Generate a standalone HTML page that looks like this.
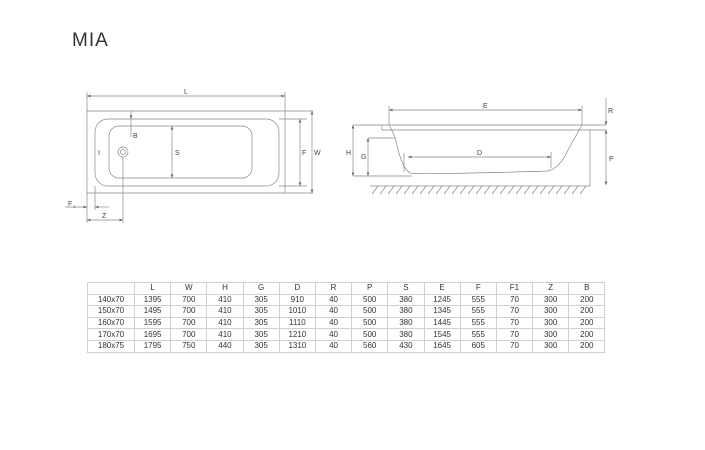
<!DOCTYPE html>
<html><head><meta charset="utf-8"><style>
body{margin:0;background:#fff;width:705px;height:450px;overflow:hidden;position:relative;font-family:"Liberation Sans",sans-serif}
.t{position:absolute;left:72px;top:30px;font-size:19px;color:#333;letter-spacing:1px}
table{position:absolute;left:87px;top:282px;border-collapse:collapse;font-size:8px;color:#333}
td{border:1px solid #d0d0d0;height:10.6px;padding:0;text-align:center;width:35.2px;line-height:10px}
td:first-child{width:46px}
</style></head><body>
<div class="t">MIA</div>
<svg width="705" height="450" style="position:absolute;left:0;top:0" font-family="Liberation Sans" font-size="7" fill="none" stroke="#888" stroke-width="0.7">
<defs><marker id="a" markerWidth="6" markerHeight="6" refX="5" refY="3" orient="auto-start-reverse"><path d="M0,1 L5,3 L0,5" fill="#666" stroke="none"/></marker></defs>
<!-- plan view -->
<line x1="87" y1="96" x2="285" y2="96" marker-start="url(#a)" marker-end="url(#a)"/>
<line x1="87" y1="92" x2="87" y2="223"/><line x1="285" y1="92" x2="285" y2="193"/>
<line x1="87" y1="111" x2="313" y2="111"/><line x1="87" y1="193" x2="313" y2="193"/>
<rect x="95" y="119" width="184" height="67" rx="13"/>
<line x1="279" y1="119" x2="307" y2="119"/><line x1="279" y1="186" x2="307" y2="186"/>
<rect x="109" y="126" width="143" height="52" rx="10"/>
<circle cx="123" cy="152" r="5"/><circle cx="123" cy="152" r="2.5"/>
<line x1="131" y1="111" x2="131" y2="119" marker-end="url(#a)"/><line x1="131" y1="119" x2="131" y2="137"/>
<line x1="172" y1="126" x2="172" y2="178" marker-start="url(#a)" marker-end="url(#a)"/>
<line x1="300" y1="119" x2="300" y2="186" marker-start="url(#a)" marker-end="url(#a)"/>
<line x1="312" y1="111" x2="312" y2="193" marker-start="url(#a)" marker-end="url(#a)"/>
<line x1="95" y1="186" x2="95" y2="210"/>
<line x1="65" y1="207" x2="87" y2="207" marker-end="url(#a)"/><line x1="109" y1="207" x2="95" y2="207" marker-end="url(#a)"/>
<line x1="123" y1="157" x2="123" y2="223"/>
<line x1="87" y1="220" x2="123" y2="220" marker-start="url(#a)" marker-end="url(#a)"/>
<!-- side view -->
<line x1="389" y1="110" x2="582" y2="110" marker-start="url(#a)" marker-end="url(#a)"/>
<line x1="389" y1="106" x2="389" y2="125"/><line x1="582" y1="106" x2="582" y2="125"/>
<line x1="353" y1="125" x2="606" y2="125"/><line x1="382" y1="130" x2="606" y2="130"/><line x1="382" y1="125" x2="382" y2="130"/>
<line x1="606" y1="98" x2="606" y2="125" marker-end="url(#a)"/>
<line x1="606" y1="130" x2="606" y2="185" marker-start="url(#a)" marker-end="url(#a)"/>
<line x1="590" y1="130" x2="590" y2="186"/>
<line x1="353" y1="125" x2="353" y2="176" marker-start="url(#a)" marker-end="url(#a)"/>
<line x1="368" y1="138" x2="368" y2="176" marker-start="url(#a)" marker-end="url(#a)"/>
<line x1="368" y1="138" x2="395" y2="138"/><line x1="353" y1="176" x2="412" y2="176"/>
<path d="M389,125 Q395,135 397,145 Q402,168 410,173 Q420,175 548,171 Q560,168 568,150 L582,125"/>
<line x1="408" y1="157" x2="551" y2="157" marker-start="url(#a)" marker-end="url(#a)"/>
<line x1="404" y1="153" x2="404" y2="172"/><line x1="551" y1="152" x2="551" y2="168"/>
<line x1="370" y1="186" x2="590" y2="186"/>
<path d="M372,194 l6,-8 M380,194 l6,-8 M388,194 l6,-8 M396,194 l6,-8 M404,194 l6,-8 M412,194 l6,-8 M420,194 l6,-8 M428,194 l6,-8 M436,194 l6,-8 M444,194 l6,-8 M452,194 l6,-8 M460,194 l6,-8 M468,194 l6,-8 M476,194 l6,-8 M484,194 l6,-8 M492,194 l6,-8 M500,194 l6,-8 M508,194 l6,-8 M516,194 l6,-8 M524,194 l6,-8 M532,194 l6,-8 M540,194 l6,-8 M548,194 l6,-8 M556,194 l6,-8 M564,194 l6,-8 M572,194 l6,-8 M580,194 l6,-8"/>
<g fill="#444" stroke="none">
<text x="184" y="94">L</text><text x="98" y="155">I</text><text x="133" y="138">B</text><text x="175" y="155">S</text>
<text x="302" y="155">F</text><text x="314" y="155">W</text><text x="68" y="206">F</text><text x="73" y="208" font-size="4">1</text><text x="102" y="218">Z</text>
<text x="483" y="108">E</text><text x="608" y="113">R</text><text x="609" y="161">P</text><text x="346" y="155">H</text><text x="361" y="159">G</text><text x="477" y="155">D</text>
</g>
</svg>
<table>
<tr><td></td><td>L</td><td>W</td><td>H</td><td>G</td><td>D</td><td>R</td><td>P</td><td>S</td><td>E</td><td>F</td><td>F1</td><td>Z</td><td>B</td></tr>
<tr><td>140x70</td><td>1395</td><td>700</td><td>410</td><td>305</td><td>910</td><td>40</td><td>500</td><td>380</td><td>1245</td><td>555</td><td>70</td><td>300</td><td>200</td></tr>
<tr><td>150x70</td><td>1495</td><td>700</td><td>410</td><td>305</td><td>1010</td><td>40</td><td>500</td><td>380</td><td>1345</td><td>555</td><td>70</td><td>300</td><td>200</td></tr>
<tr><td>160x70</td><td>1595</td><td>700</td><td>410</td><td>305</td><td>1110</td><td>40</td><td>500</td><td>380</td><td>1445</td><td>555</td><td>70</td><td>300</td><td>200</td></tr>
<tr><td>170x70</td><td>1695</td><td>700</td><td>410</td><td>305</td><td>1210</td><td>40</td><td>500</td><td>380</td><td>1545</td><td>555</td><td>70</td><td>300</td><td>200</td></tr>
<tr><td>180x75</td><td>1795</td><td>750</td><td>440</td><td>305</td><td>1310</td><td>40</td><td>560</td><td>430</td><td>1645</td><td>605</td><td>70</td><td>300</td><td>200</td></tr>
</table>
</body></html>
